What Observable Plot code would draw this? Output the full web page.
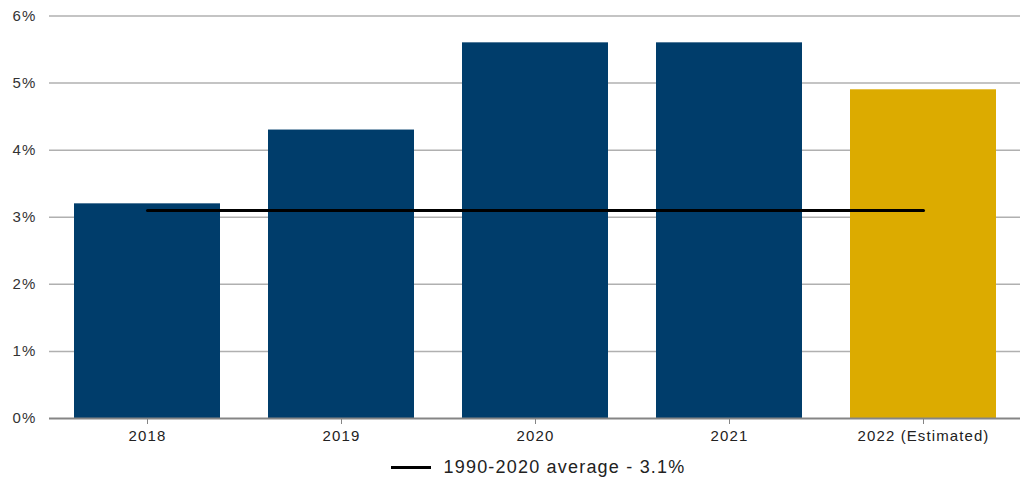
<!DOCTYPE html>
<html>
<head>
<meta charset="utf-8">
<script src="https://cdn.jsdelivr.net/npm/d3@7"></script>
<script src="https://cdn.jsdelivr.net/npm/@observablehq/plot@0.6"></script>
<style>
  html, body { margin: 0; padding: 0; background: #fff; }
  #chart { width: 1024px; }
  #chart svg text { letter-spacing: 1.1px; }
  .legend { height: 34px; display: flex; justify-content: center; align-items: center; font-family: "Liberation Sans", Arial, sans-serif; font-size: 18px; letter-spacing: 1.2px; color: #222; margin-left: 52px; }
  .legend .swatch { display: inline-block; width: 40px; height: 3px; background: #000; margin-right: 13px; }
</style>
</head>
<body>
<div id="chart"></div>
<script>
const years = ["2018", "2019", "2020", "2021", "2022 (Estimated)"];
const rates = [3.2, 4.3, 5.6, 5.6, 4.9];
const barKinds = ["Actual", "Actual", "Actual", "Actual", "Estimated"];
const averageLabel = "1990-2020 average - 3.1%";
const averageValue = 3.1;
const yTicks = [0, 1, 2, 3, 4, 5, 6];

const data = years.map((y, i) => ({year: y, rate: rates[i], kind: barKinds[i]}));
const avgLine = [{year: years[0], v: averageValue}, {year: years[years.length - 1], v: averageValue}];

const chart = Plot.plot({
  width: 1024,
  height: 450,
  marginTop: 15.5,
  marginBottom: 32,
  marginLeft: 50,
  marginRight: 4,
  style: {fontFamily: "'Liberation Sans', Arial, sans-serif", fontSize: "15px", color: "#333"},
  x: {domain: years, paddingInner: 0.25, paddingOuter: 0.125, label: null},
  y: {domain: [0, 6], label: null},
  color: {domain: ["Actual", "Estimated"], range: ["#003d6b", "#dcab00"]},
  marks: [
    Plot.ruleY(yTicks.filter(d => d > 0), {stroke: "#b0b0b0", strokeWidth: 1.5, insetLeft: -1}),
    Plot.barY(data, {x: "year", y: "rate", fill: "kind"}),
    Plot.ruleY([0], {stroke: "#858585", strokeWidth: 2, insetLeft: -1}),
    Plot.line(avgLine, {x: "year", y: "v", stroke: "#000", strokeWidth: 3}),
    Plot.axisY({ticks: yTicks, tickSize: 0, tickPadding: 14, tickFormat: d => d + "%", fontSize: 15, fill: "#333", label: null}),
    Plot.axisX({tickSize: 6, tickPadding: 6, stroke: "#858585", fontSize: 15, fill: "#222", label: null})
  ]
});
document.getElementById("chart").appendChild(chart);

const legend = document.createElement("div");
legend.className = "legend";
legend.innerHTML = `<span class="swatch"></span><span></span>`;
legend.lastChild.textContent = averageLabel;
document.getElementById("chart").appendChild(legend);
</script>
</body>
</html>
